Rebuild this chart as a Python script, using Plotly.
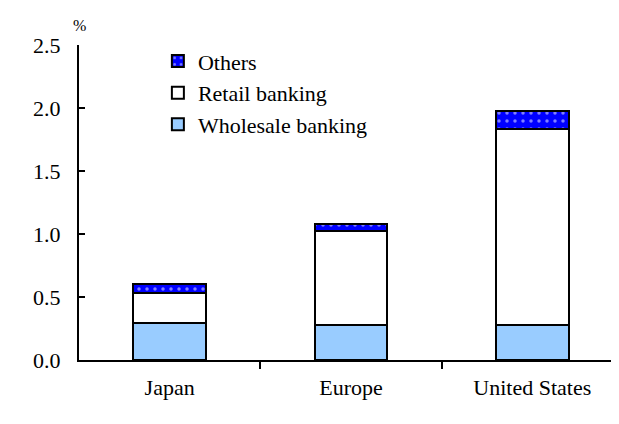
import plotly.graph_objects as go

categories = ["Japan", "Europe", "United States"]
wholesale = [0.29, 0.28, 0.28]
retail = [0.24, 0.74, 1.55]
others = [0.07, 0.06, 0.15]
y_ticks = [0.0, 0.5, 1.0, 1.5, 2.0, 2.5]

xpos = list(range(len(categories)))
outline = dict(color="black", width=2)

fig = go.Figure()
fig.add_trace(go.Bar(x=xpos, y=wholesale, name="Wholesale banking", width=0.4,
                     marker=dict(color="#99CCFF", line=outline)))
fig.add_trace(go.Bar(x=xpos, y=retail, name="Retail banking", width=0.4,
                     marker=dict(color="white", line=outline)))
fig.add_trace(go.Bar(x=xpos, y=others, name="Others", width=0.4,
                     marker=dict(color="#0000FF", line=outline,
                                 pattern=dict(shape=".", fgcolor="white", bgcolor="#0000FF",
                                              size=8, solidity=0.15))))

fig.update_layout(
    barmode="stack",
    width=619, height=424,
    margin=dict(l=71, r=4, t=37, b=72),
    paper_bgcolor="white", plot_bgcolor="white",
    font=dict(family="Liberation Serif", size=22, color="black"),
    showlegend=True,
    legend=dict(traceorder="reversed", x=0.145, y=1.015, xanchor="left", yanchor="top",
                bgcolor="rgba(0,0,0,0)", font=dict(size=22), tracegroupgap=0),
    xaxis=dict(range=[-0.5, 2.5], tickvals=xpos, ticktext=categories, ticks="",
               ticklabelstandoff=7,
               showline=True, linecolor="black", linewidth=2, showgrid=False, zeroline=False,
               minor=dict(tickvals=[0.5, 1.5, 2.5], ticks="outside", ticklen=7,
                          tickcolor="black", tickwidth=2, showgrid=False)),
    yaxis=dict(range=[0, 2.5], tickvals=y_ticks, tickformat=".1f", ticks="inside",
               ticklen=6, tickwidth=2, tickcolor="black", ticklabelstandoff=12,
               showline=True, linecolor="black", linewidth=2, showgrid=False, zeroline=False),
    annotations=[dict(text="%", x=0, y=1, xref="paper", yref="paper", xanchor="center",
                      yanchor="bottom", yshift=9, showarrow=False, font=dict(size=16))],
)

fig.write_html("out.html")
